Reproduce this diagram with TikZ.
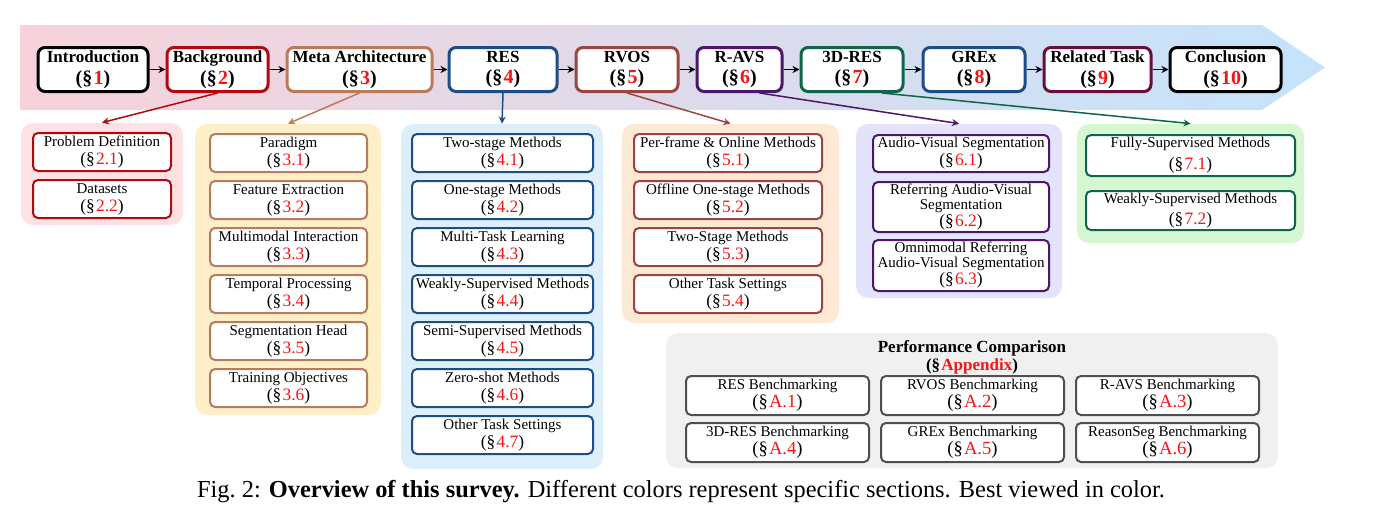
\documentclass[tikz,border=0pt]{standalone}
\usepackage{fontspec}
\setmainfont{Liberation Serif}
\usetikzlibrary{positioning,arrows.meta}

\definecolor{bandpink}{HTML}{F8D2DA}
\definecolor{bandblue}{HTML}{C4E3FB}
\definecolor{bgred}{HTML}{B00A0F}
\definecolor{metabrown}{HTML}{B97B5B}
\definecolor{resblue}{HTML}{1D4C86}
\definecolor{rvosred}{HTML}{9A4541}
\definecolor{ravspurple}{HTML}{4B1768}
\definecolor{rdgreen}{HTML}{0E6549}
\definecolor{relmaroon}{HTML}{6A0D3A}
\definecolor{perfgray}{HTML}{4F4F4F}
\definecolor{secred}{HTML}{F51414}
\definecolor{pinkfill}{HTML}{FDE1E5}
\definecolor{yellowfill}{HTML}{FEEFC9}
\definecolor{bluefill}{HTML}{DDEFFD}
\definecolor{peachfill}{HTML}{FDE9D5}
\definecolor{lavfill}{HTML}{E3E3FC}
\definecolor{greenfill}{HTML}{D5F8D3}
\definecolor{grayfill}{HTML}{F0F0F0}

% section number, second line of a box
\newcommand{\secnum}[2][8.7]{{\fontsize{#1}{9}\selectfont(\S\kern0.6pt\textcolor{secred}{#2})}}

\tikzset{
  topbox/.style={draw, line width=1.5pt, rounded corners=3.5pt, fill=white,
    align=center, inner sep=0pt, minimum height=22pt,
    font=\bfseries\fontsize{8.5}{10.8}\selectfont},
  subbox/.style={draw, line width=1pt, rounded corners=2.5pt, fill=white,
    align=center, inner sep=0pt, minimum height=19pt,
    font=\fontsize{7.5}{9}\selectfont},
  panel/.style={rounded corners=6pt, inner sep=0pt},
  flow/.style={-{Stealth[length=3.5pt,width=3.5pt]}, line width=0.75pt},
}

\begin{document}
\begin{tikzpicture}[x=0.5pt, y=-0.5pt]
  \useasboundingbox (0,0) rectangle (1387,504);
  % band behind the sections
  \shade[left color=bandpink, right color=bandblue]
    (20,25) -- (1262,25) -- (1325,67.5) -- (1262,110) -- (20,110) -- cycle;

  % main sections
  \node[topbox, minimum width=55pt] (intro) at (93,69.5) {Introduction\\\secnum[10]{1}};
  \node[topbox, draw=bgred, minimum width=50.5pt, right=8pt of intro] (bg) {Background\\\secnum[10]{2}};
  \node[topbox, draw=metabrown, minimum width=72.5pt, right=8pt of bg] (meta) {Meta Architecture\\\secnum[10]{3}};
  \node[topbox, draw=resblue, minimum width=54pt, right=7pt of meta] (res) {RES\\\secnum[10]{4}};
  \node[topbox, draw=rvosred, minimum width=51pt, right=8pt of res] (rvos) {RVOS\\\secnum[10]{5}};
  \node[topbox, draw=ravspurple, minimum width=42.5pt, right=8pt of rvos] (ravs) {R-AVS\\\secnum[10]{6}};
  \node[topbox, draw=rdgreen, minimum width=51pt, right=8pt of ravs] (rd) {3D-RES\\\secnum[10]{7}};
  \node[topbox, draw=resblue, minimum width=51pt, right=8.5pt of rd] (grex) {GREx\\\secnum[10]{8}};
  \node[topbox, draw=relmaroon, minimum width=53.5pt, right=8pt of grex] (rel) {Related Task\\\secnum[10]{9}};
  \node[topbox, minimum width=55.5pt, right=8pt of rel] (concl) {Conclusion\\\secnum[10]{10}};
  \draw[flow] (intro) -- (bg);
  \draw[flow] (bg) -- (meta);
  \draw[flow] (meta) -- (res);
  \draw[flow] (res) -- (rvos);
  \draw[flow] (rvos) -- (ravs);
  \draw[flow] (ravs) -- (rd);
  \draw[flow] (rd) -- (grex);
  \draw[flow] (grex) -- (rel);
  \draw[flow] (rel) -- (concl);

  % panels
  \node[panel, fill=pinkfill, minimum width=81pt, minimum height=51pt] (bgpanel) at (102,174) {};
  \node[panel, fill=yellowfill, minimum width=93pt, minimum height=145.5pt] (metapanel) at (288,269.5) {};
  \node[panel, fill=bluefill, minimum width=101pt, minimum height=172.5pt] (respanel) at (502,296.5) {};
  \node[panel, fill=peachfill, minimum width=108.5pt, minimum height=99.5pt] (rvospanel) at (730.5,223.5) {};
  \node[panel, fill=lavfill, minimum width=103pt, minimum height=87pt] (ravspanel) at (959,211) {};
  \node[panel, fill=greenfill, minimum width=113.5pt, minimum height=59.5pt] (rdpanel) at (1190.5,183.5) {};
  \node[panel, fill=grayfill, minimum width=306pt, minimum height=67.5pt] (perfpanel) at (972,400.5) {};

  % Background
  \node[subbox, draw=bgred, minimum width=69pt] (bg1) at (102,152) {Problem Definition\\\secnum{2.1}};
  \node[subbox, draw=bgred, minimum width=69pt, below=3.5pt of bg1] (bg2) {Datasets\\\secnum{2.2}};

  % Meta Architecture
  \node[subbox, draw=metabrown, minimum width=78.5pt] (meta1) at (288.5,153) {Paradigm\\\secnum{3.1}};
  \node[subbox, draw=metabrown, minimum width=78.5pt, below=3.5pt of meta1] (meta2) {Feature Extraction\\\secnum{3.2}};
  \node[subbox, draw=metabrown, minimum width=78.5pt, below=3.5pt of meta2] (meta3) {Multimodal Interaction\\\secnum{3.3}};
  \node[subbox, draw=metabrown, minimum width=78.5pt, below=3.5pt of meta3] (meta4) {Temporal Processing\\\secnum{3.4}};
  \node[subbox, draw=metabrown, minimum width=78.5pt, below=3.5pt of meta4] (meta5) {Segmentation Head\\\secnum{3.5}};
  \node[subbox, draw=metabrown, minimum width=78.5pt, below=3.5pt of meta5] (meta6) {Training Objectives\\\secnum{3.6}};

  % RES
  \node[subbox, draw=resblue, minimum width=90.5pt] (res1) at (502.5,153) {Two-stage Methods\\\secnum{4.1}};
  \node[subbox, draw=resblue, minimum width=90.5pt, below=3.5pt of res1] (res2) {One-stage Methods\\\secnum{4.2}};
  \node[subbox, draw=resblue, minimum width=90.5pt, below=3.5pt of res2] (res3) {Multi-Task Learning\\\secnum{4.3}};
  \node[subbox, draw=resblue, minimum width=90.5pt, below=3.5pt of res3] (res4) {Weakly-Supervised Methods\\\secnum{4.4}};
  \node[subbox, draw=resblue, minimum width=90.5pt, below=3.5pt of res4] (res5) {Semi-Supervised Methods\\\secnum{4.5}};
  \node[subbox, draw=resblue, minimum width=90.5pt, below=3.5pt of res5] (res6) {Zero-shot Methods\\\secnum{4.6}};
  \node[subbox, draw=resblue, minimum width=90.5pt, below=3.5pt of res6] (res7) {Other Task Settings\\\secnum{4.7}};

  % RVOS
  \node[subbox, draw=rvosred, minimum width=94pt] (rvos1) at (728,153) {Per-frame \& Online Methods\\\secnum{5.1}};
  \node[subbox, draw=rvosred, minimum width=94pt, below=3.5pt of rvos1] (rvos2) {Offline One-stage Methods\\\secnum{5.2}};
  \node[subbox, draw=rvosred, minimum width=94pt, below=3.5pt of rvos2] (rvos3) {Two-Stage Methods\\\secnum{5.3}};
  \node[subbox, draw=rvosred, minimum width=94pt, below=3.5pt of rvos3] (rvos4) {Other Task Settings\\\secnum{5.4}};

  % R-AVS
  \node[subbox, draw=ravspurple, minimum width=88pt, minimum height=18.5pt] (ravs1) at (961,153.5) {Audio-Visual Segmentation\\\secnum{6.1}};
  \node[subbox, draw=ravspurple, minimum width=88pt, minimum height=25pt, font=\fontsize{7.5}{7.3}\selectfont, below=4pt of ravs1] (ravs2) {Referring Audio-Visual\\Segmentation\\\secnum{6.2}};
  \node[subbox, draw=ravspurple, minimum width=88pt, minimum height=25.5pt, font=\fontsize{7.5}{7.3}\selectfont, below=3pt of ravs2] (ravs3) {Omnimodal Referring\\Audio-Visual Segmentation\\\secnum{6.3}};

  % 3D-RES
  \node[subbox, draw=rdgreen, minimum width=104.5pt, minimum height=20.5pt] (rd1) at (1190.5,155.5) {Fully-Supervised Methods\\[2pt]\secnum{7.1}};
  \node[subbox, draw=rdgreen, minimum width=104.5pt, minimum height=19.5pt, below=6.5pt of rd1] (rd2) {Weakly-Supervised Methods\\[1.5pt]\secnum{7.2}};

  % Performance Comparison
  \node[align=center, inner sep=0pt, font=\bfseries\fontsize{8.5}{9}\selectfont] (perftitle) at (972,357) {Performance Comparison\\\secnum[8.5]{Appendix}};
  \node[subbox, draw=perfgray, minimum width=91.5pt, minimum height=19.5pt] (perf1) at (777.5,395.5) {RES Benchmarking\\\secnum[9.3]{A.1}};
  \node[subbox, draw=perfgray, minimum width=91.5pt, minimum height=19.5pt, right=5pt of perf1] (perf2) {RVOS Benchmarking\\\secnum[9.3]{A.2}};
  \node[subbox, draw=perfgray, minimum width=91.5pt, minimum height=19.5pt, right=5pt of perf2] (perf3) {R-AVS Benchmarking\\\secnum[9.3]{A.3}};
  \node[subbox, draw=perfgray, minimum width=91.5pt, minimum height=19.5pt, below=3pt of perf1] (perf4) {3D-RES Benchmarking\\\secnum[9.3]{A.4}};
  \node[subbox, draw=perfgray, minimum width=91.5pt, minimum height=19.5pt, below=3pt of perf2] (perf5) {GREx Benchmarking\\\secnum[9.3]{A.5}};
  \node[subbox, draw=perfgray, minimum width=91.5pt, minimum height=19.5pt, below=3pt of perf3] (perf6) {ReasonSeg Benchmarking\\\secnum[9.3]{A.6}};

  % section to panel
  \draw[flow, bgred] (bg.south) -- (bgpanel.north);
  \draw[flow, metabrown] (meta.south) -- (metapanel.north);
  \draw[flow, resblue] (res.south) -- (respanel.north);
  \draw[flow, rvosred] (rvos.south) -- (rvospanel.north);
  \draw[flow, ravspurple] ([xshift=10pt]ravs.south) -- (ravspanel.north);
  \draw[flow, rdgreen] ([xshift=15pt]rd.south) -- (rdpanel.north);

  \node[font=\fontsize{12.2}{14}\selectfont] (caption) at (681,492) {Fig.~2: \textbf{Overview of this survey.} Different colors represent specific sections. Best viewed in color.};
\end{tikzpicture}
\end{document}
